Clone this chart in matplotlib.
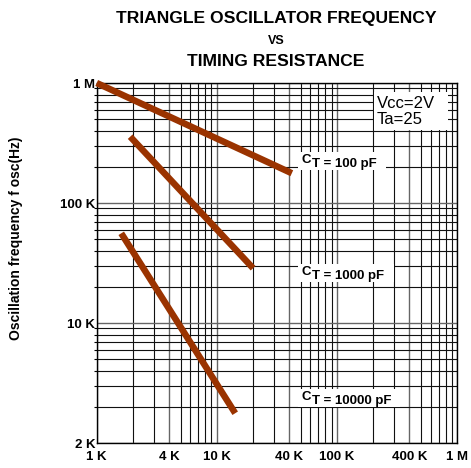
import matplotlib
matplotlib.use("Agg")
import matplotlib.pyplot as plt
from matplotlib.patches import Rectangle
from matplotlib.ticker import FixedLocator, NullFormatter

plt.rcParams['font.family'] = ['Liberation Sans', 'DejaVu Sans']

# ---- data ----
series_names = ["100 pF", "1000 pF", "10000 pF"]
r_100 = [1.0e3, 42e3]          # timing resistance (ohm)
f_100 = [1.0e6, 177e3]         # oscillation frequency (Hz)
r_1000 = [1.9e3, 20e3]
f_1000 = [357e3, 28.6e3]
r_10000 = [1.6e3, 14.2e3]
f_10000 = [55.9e3, 1.77e3]

x_tick_vals = [1e3, 4e3, 1e4, 4e4, 1e5, 4e5, 1e6]
x_tick_labels = ["1 K", "4 K", "10 K", "40 K", "100 K", "400 K", "1 M"]
y_tick_vals = [1e3, 1e4, 1e5, 1e6]
y_tick_labels = ["2 K", "10 K", "100 K", "1 M"]

W, H = 471, 468
fig = plt.figure(figsize=(W / 100, H / 100), dpi=100)

def fx(x):
    return x / W

def fy(y):
    return 1 - y / H

L, R, T, B = 96.7, 457.3, 83, 443
ax = fig.add_axes([fx(L), fy(B), fx(R) - fx(L), fy(T) - fy(B)])
ax.set_xscale('log')
ax.set_yscale('log')
ax.set_xlim(1e3, 1e6)
ax.set_ylim(1e3, 1e6)

minor_x = [m * 10 ** e for e in range(3, 6) for m in range(2, 10)]
minor_x = [v for v in minor_x if v not in x_tick_vals]
minor_y = [m * 10 ** e for e in range(3, 6) for m in range(2, 10)]

ax.xaxis.set_major_locator(FixedLocator(x_tick_vals))
ax.xaxis.set_minor_locator(FixedLocator(minor_x))
ax.yaxis.set_major_locator(FixedLocator(y_tick_vals))
ax.yaxis.set_minor_locator(FixedLocator(minor_y))
ax.set_xticklabels(x_tick_labels, fontsize=9.5, fontweight='bold')
ax.set_yticklabels(y_tick_labels, fontsize=9.5, fontweight='bold')
ax.xaxis.set_minor_formatter(NullFormatter())
ax.yaxis.set_minor_formatter(NullFormatter())
ax.tick_params(axis='x', which='both', length=0, pad=6)
ax.tick_params(axis='y', which='major', length=0, pad=1)
ax.tick_params(axis='y', which='minor', length=2, width=0.8)

ax.grid(True, which='major', color='#666666', lw=1.0)
ax.grid(True, which='minor', color='#111111', lw=0.8)
ax.set_axisbelow(True)
for s in ax.spines.values():
    s.set_color('black')
    s.set_linewidth(1.0)

line_color = '#9A3300'
for rx, fyv in [(r_100, f_100), (r_1000, f_1000), (r_10000, f_10000)]:
    ax.plot(rx, fyv, color=line_color, lw=4.7, solid_capstyle='butt', zorder=5, clip_on=False)

# white label boxes above the grid, below the lines
def ax_white_box(x0, y0, x1, y1):
    r = Rectangle((fx(x0), fy(y1)), fx(x1) - fx(x0), fy(y0) - fy(y1),
                  transform=fig.transFigure, facecolor='white', edgecolor='none', zorder=3)
    ax.add_artist(r)

ax_white_box(374, 92, 448, 130)
ax.text(fx(377), fy(103.5), "Vcc=2V", transform=fig.transFigure, fontsize=12,
        va='center', ha='left', zorder=6)
ax.text(fx(377), fy(119.5), "Ta=25", transform=fig.transFigure, fontsize=12,
        va='center', ha='left', zorder=6)

ct_labels = [(series_names[0], 160, 386), (series_names[1], 271.7, 394), (series_names[2], 396.7, 400)]
for name, yc, xr in ct_labels:
    ax_white_box(298, yc - 8, xr, yc + 10)
    ax.text(fx(302), fy(yc), "C", transform=fig.transFigure, fontsize=9.5,
            fontweight='bold', va='center', ha='left', zorder=6)
    ax.text(fx(312.5), fy(yc + 4.5), "T = " + name, transform=fig.transFigure, fontsize=9.5,
            fontweight='bold', va='center', ha='left', zorder=6)

# titles
fig.text(fx(276), fy(18), "TRIANGLE OSCILLATOR FREQUENCY", fontsize=12.6,
         fontweight='bold', ha='center', va='center')
fig.text(fx(276), fy(41), "VS", fontsize=9, fontweight='bold', ha='center', va='center')
fig.text(fx(276), fy(61), "TIMING RESISTANCE", fontsize=12.6,
         fontweight='bold', ha='center', va='center')

fig.text(fx(16), fy(238), "Oscillation frequency f osc(Hz)", fontsize=10,
         fontweight='bold', rotation=90, ha='center', va='center')

fig.savefig("out.png", dpi=100)
